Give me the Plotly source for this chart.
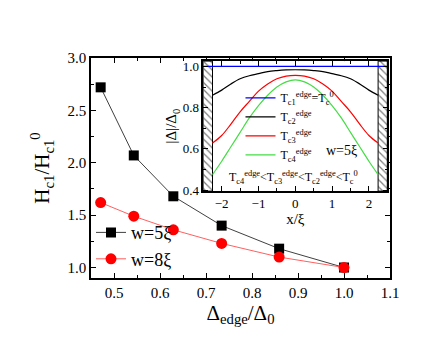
import plotly.graph_objects as go

# --- main panel data ---
delta_edge = [0.471, 0.543, 0.629, 0.734, 0.859, 1.0]
hc1_w5 = [2.72, 2.07, 1.68, 1.40, 1.18, 1.0]
hc1_w8 = [1.62, 1.49, 1.36, 1.23, 1.10, 1.0]

# --- inset data: |Delta|/Delta0 profiles across the strip (w=5 xi) ---
x_prof = [-2.25, -2.0, -1.75, -1.5, -1.25, -1.0, -0.75, -0.5, -0.25, 0.0,
          0.25, 0.5, 0.75, 1.0, 1.25, 1.5, 1.75, 2.0, 2.25]
x_full = [-2.5, 2.5]
tc1 = [1.0, 1.0]
tc2 = [0.86, 0.885, 0.915, 0.94, 0.955, 0.965, 0.975, 0.98, 0.983, 0.984,
       0.983, 0.98, 0.975, 0.965, 0.955, 0.94, 0.915, 0.885, 0.86]
tc3 = [0.628, 0.665, 0.72, 0.78, 0.83, 0.88, 0.915, 0.94, 0.953, 0.957,
       0.953, 0.94, 0.915, 0.88, 0.83, 0.78, 0.72, 0.665, 0.628]
tc4 = [0.475, 0.54, 0.61, 0.68, 0.75, 0.81, 0.86, 0.90, 0.925, 0.935,
       0.925, 0.90, 0.86, 0.81, 0.75, 0.68, 0.61, 0.54, 0.475]

# hatched edge regions (x from strip edge to edge of the good region)
hatch_left = [-2.5, -2.25]
hatch_right = [2.25, 2.5]
inset_yr = [0.395, 1.026]

SERIF = "Liberation Serif"

fig = go.Figure()

# main curves
fig.add_trace(go.Scatter(
    x=delta_edge, y=hc1_w5, mode="lines+markers", name="w=5ξ",
    line=dict(color="#404040", width=1),
    marker=dict(symbol="square", size=10, color="black"),
    legend="legend",
))
fig.add_trace(go.Scatter(
    x=delta_edge, y=hc1_w8, mode="lines+markers", name="w=8ξ",
    line=dict(color="#ff6060", width=1),
    marker=dict(symbol="circle", size=11, color="red"),
    legend="legend",
))


def hatch_box(xs):
    return go.Scatter(
        x=[xs[0], xs[1], xs[1], xs[0], xs[0]],
        y=[inset_yr[0], inset_yr[0], inset_yr[1], inset_yr[1], inset_yr[0]],
        xaxis="x2", yaxis="y2", mode="lines", fill="toself",
        fillcolor="white",
        fillpattern=dict(shape="\\", fgcolor="black", bgcolor="white",
                         size=5, solidity=0.25),
        line=dict(color="black", width=1), showlegend=False, hoverinfo="skip",
    )


fig.add_trace(hatch_box(hatch_left))
fig.add_trace(hatch_box(hatch_right))

inset_series = [
    (x_full, tc1, "blue", "T<sub>c1</sub><sup>edge</sup>=T<sub>c</sub><sup>0</sup>"),
    (x_prof, tc2, "black", "T<sub>c2</sub><sup>edge</sup>"),
    (x_prof, tc3, "red", "T<sub>c3</sub><sup>edge</sup>"),
    (x_prof, tc4, "#44dd44", "T<sub>c4</sub><sup>edge</sup>"),
]
for xs, ys, col, nm in inset_series:
    fig.add_trace(go.Scatter(
        x=xs, y=ys, mode="lines", name=nm, xaxis="x2", yaxis="y2",
        line=dict(color=col, width=1.2, shape="spline"),
        legend="legend2",
    ))

axis_common = dict(
    showline=True, linecolor="black", linewidth=1.5, mirror="ticks",
    ticks="inside", ticklen=5, tickcolor="black", showgrid=False,
    zeroline=False,
)

fig.update_layout(
    width=432, height=337,
    margin=dict(l=83, r=50, t=50, b=67),
    paper_bgcolor="white", plot_bgcolor="white",
    font=dict(family=SERIF, color="black", size=14),
    xaxis=dict(
        range=[0.45, 1.1], dtick=0.1, tick0=0.5, tickformat=".1f",
        minor=dict(dtick=0.05, ticks="inside", ticklen=3, tickcolor="black"),
        title=dict(text="Δ<sub>edge</sub>/Δ<sub>0</sub>",
                   font=dict(size=21, family=SERIF), standoff=4),
        tickfont=dict(size=15, family=SERIF),
        **axis_common,
    ),
    yaxis=dict(
        range=[0.9, 3.0], dtick=0.5, tick0=1.0, tickformat=".1f",
        minor=dict(dtick=0.25, ticks="inside", ticklen=3, tickcolor="black"),
        title=dict(text="H<sub>c1</sub>/H<sub>c1</sub><sup>0</sup>",
                   font=dict(size=21, family=SERIF), standoff=12),
        tickfont=dict(size=15, family=SERIF),
        **axis_common,
    ),
    xaxis2=dict(
        domain=[0.3756, 0.991], anchor="y2", range=[-2.5, 2.5], dtick=1,
        minor=dict(dtick=0.5, ticks="inside", ticklen=3, tickcolor="black"),
        title=dict(text="x/ξ", font=dict(size=15, family=SERIF), standoff=0),
        tickfont=dict(size=13, family=SERIF),
        **axis_common,
    ),
    yaxis2=dict(
        domain=[0.395, 0.986], anchor="x2", range=inset_yr, dtick=0.2,
        tick0=0.4, tickformat=".1f",
        minor=dict(dtick=0.1, ticks="inside", ticklen=3, tickcolor="black"),
        title=dict(text="|Δ|/Δ<sub>0</sub>", font=dict(size=15, family=SERIF),
                   standoff=2),
        tickfont=dict(size=13, family=SERIF),
        **axis_common,
    ),
    legend=dict(
        x=0.0, y=0.29, xanchor="left", yanchor="top",
        bgcolor="rgba(0,0,0,0)", font=dict(size=18, family=SERIF),
        tracegroupgap=0, itemwidth=30,
    ),
    legend2=dict(
        x=0.50, y=0.885, xanchor="left", yanchor="top",
        bgcolor="rgba(0,0,0,0)", font=dict(size=12, family=SERIF),
        tracegroupgap=0, itemwidth=30,
    ),
    annotations=[
        dict(text="w=5ξ", x=1.25, y=0.59, xref="x2", yref="y2",
             showarrow=False, font=dict(size=14, family=SERIF)),
        dict(text="T<sub>c4</sub><sup>edge</sup>&lt;T<sub>c3</sub><sup>edge</sup>&lt;"
                  "T<sub>c2</sub><sup>edge</sup>&lt;T<sub>c</sub><sup>0</sup>",
             x=-0.06, y=0.46, xref="x2", yref="y2",
             showarrow=False, font=dict(size=12, family=SERIF)),
    ],
)

fig.write_html("out.html")
